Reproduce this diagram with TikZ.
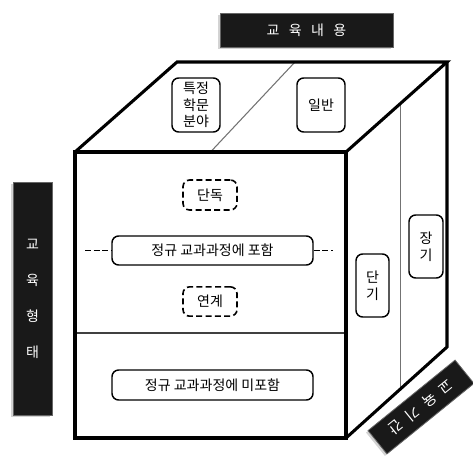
\documentclass[tikz,border=0pt]{standalone}
\usepackage{fontspec}
\setmainfont{Noto Sans CJK KR}
\usetikzlibrary{calc,shadows}

\tikzset{
  edge/.style={line width=2.3pt, line join=miter},
  divide/.style={line width=0.8pt, draw=black!55},
  tag/.style={draw, line width=1.1pt, rounded corners=5pt, fill=white,
    align=center, inner sep=1pt, font=\fontsize{10.5}{12.5}\selectfont},
  dtag/.style={tag, line width=1.2pt, dash pattern=on 4.5pt off 2.5pt},
  label/.style={fill=black!90, draw=black!60, line width=0.6pt, text=white,
    align=center, inner sep=0pt, font=\fontsize{10.5}{12}\selectfont,
    drop shadow={shadow xshift=-1.5pt, shadow yshift=-1.5pt, opacity=0.35}}
}

\begin{document}
\begin{tikzpicture}[x=0.75pt, y=-0.75pt]
  \useasboundingbox (0,0) rectangle (473,457);

  % cube corners
  \coordinate (A) at (75,152);
  \coordinate (B) at (346,152);
  \coordinate (C) at (346,438);
  \coordinate (D) at (75,438);
  \coordinate (E) at (177,62);
  \coordinate (G) at (447,62);
  \coordinate (H) at (447,347);

  % inner dividers
  \draw[divide] ($(E)!0.437!(G)$) -- ($(A)!0.5!(B)$);
  \draw[divide] ($(B)!0.535!(G)$) -- ($(C)!0.535!(H)$);
  \draw[line width=1.1pt, draw=black!75] ($(A)!0.633!(D)$) -- ($(B)!0.633!(C)$);

  % cube
  \draw[edge] (A) -- (B) -- (C) -- (D) -- cycle;
  \draw[edge] (A) -- (E) -- (G) -- (B);
  \draw[edge] (G) -- (H) -- (C);

  % top face
  \node[tag, minimum width=36pt, minimum height=40.5pt] (spec) at (196,105) {특정\\학문\\분야};
  \node[tag, minimum width=36pt, minimum height=40.5pt] (gen) at (321,105) {일반};

  % front face
  \node[dtag, minimum width=40.5pt, minimum height=22.5pt] (solo) at (210,195) {단독};
  \node[tag, minimum width=150.75pt, minimum height=21.75pt] (incl) at (212.5,250.5) {정규 교과과정에 포함};
  \node[dtag, minimum width=40.5pt, minimum height=22pt] (link) at (210,301.5) {연계};
  \node[tag, minimum width=150.75pt, minimum height=22.5pt] (excl) at (212.5,385) {정규 교과과정에 미포함};
  \coordinate (inl) at (85,250.5);
  \coordinate (inr) at (333,250.5);
  \draw[line width=1.3pt, dash pattern=on 4.5pt off 2pt] (inl) -- (incl.west);
  \draw[line width=1.3pt, dash pattern=on 4.5pt off 2pt] (incl.east) -- (inr);

  % right face
  \node[tag, minimum width=24.75pt, minimum height=47.25pt] (short) at (372.5,285.5) {단\\기};
  \node[tag, minimum width=25.5pt, minimum height=47.25pt] (long) at (426,246.5) {장\\기};

  % axis labels
  \node[label, minimum width=129.75pt, minimum height=25.5pt] (content) at (306.5,30) {교\hspace{7pt}육\hspace{7pt}내\hspace{7pt}용};
  \node[label, minimum width=29.25pt, minimum height=174.75pt] (form) at (32.5,298.5) {교\\[15pt]육\\[15pt]형\\[15pt]태};
  \node[label, minimum width=84pt, minimum height=22.5pt, rotate=-141, font=\fontsize{11}{12}\selectfont] (period) at (421,407) {교\hspace{6pt}육\hspace{6pt}기\hspace{6pt}간};
\end{tikzpicture}
\end{document}
